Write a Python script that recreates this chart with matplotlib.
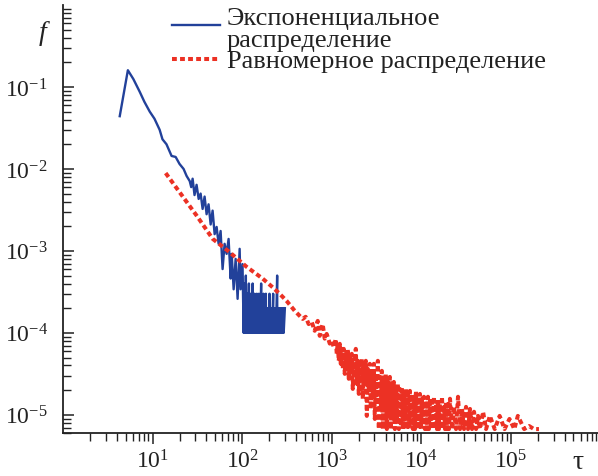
import numpy as np
import matplotlib
matplotlib.use('Agg')
import matplotlib.pyplot as plt
from matplotlib.lines import Line2D

plt.rcParams['font.family'] = ['Liberation Serif', 'DejaVu Serif']
plt.rcParams['mathtext.fontset'] = 'stix'

# exponential distribution (blue)
tau_exp = [4.3, 5.3, 6.1, 7.2, 8.1, 9.3, 10.5, 12, 12.9, 14.3, 16.3, 18.1, 20, 22.2, 24, 26, 27, 28,
           29.4, 31, 32.7, 34.4, 36.2, 38.1, 40.1, 42.2, 44.5, 46.8, 49.3, 51.9, 54.6, 57.5, 60.5,
           63.7, 67.1, 70.6, 74.4, 76.4, 80.4, 84.6, 89, 93.8, 96, 101,
           104, 105, 106, 108, 109, 110, 111, 113, 114, 116, 117, 119, 120, 122, 123, 125, 126, 128,
           129, 131, 132, 134, 135, 138, 139, 142, 143, 146, 147, 150, 151, 154, 155, 158, 159, 163,
           164, 168, 169, 173, 174, 178, 179, 184, 185, 190, 191, 196, 197, 202, 203, 208, 209, 215,
           216, 222, 223, 230, 231, 238, 239, 246, 247, 254, 255, 263, 264, 272, 273, 281, 282, 290,
           291, 300]
f_exp = [0.044, 0.16, 0.125, 0.087, 0.066, 0.050, 0.041, 0.030, 0.023, 0.020, 0.0144, 0.014, 0.0115,
         0.010, 0.0082, 0.0071, 0.0060, 0.0076, 0.0048, 0.0064, 0.0043, 0.0050, 0.00325, 0.0046,
         0.0028, 0.0037, 0.0021, 0.0031, 0.0016, 0.00196, 0.00122, 0.00175, 0.0006, 0.00122, 0.00092,
         0.0014, 0.00046, 0.00092, 0.00034, 0.0008, 0.00026, 0.00106, 0.00034, 0.00069,
         1e-4, 4e-4, 1e-4, 3e-4, 1e-4, 5e-4, 1e-4, 2e-4, 1e-4, 3e-4, 1e-4, 4e-4, 1e-4, 2e-4, 1e-4,
         3e-4, 1e-4, 2e-4, 1e-4, 4e-4, 1e-4, 2e-4, 1e-4, 3e-4, 1e-4, 2e-4, 1e-4, 3e-4, 1e-4, 2e-4,
         1e-4, 3e-4, 1e-4, 2e-4, 1e-4, 4e-4, 1e-4, 2e-4, 1e-4, 3e-4, 1e-4, 2e-4, 1e-4, 3e-4, 1e-4,
         2e-4, 1e-4, 2e-4, 1e-4, 3e-4, 1e-4, 2e-4, 1e-4, 2e-4, 1e-4, 3e-4, 1e-4, 2e-4, 1e-4, 2e-4,
         1e-4, 5e-4, 1e-4, 2e-4, 1e-4, 2e-4, 1e-4, 2e-4, 1e-4, 2e-4, 1e-4, 2e-4, 1e-4, 2e-4]

# uniform distribution (red)
tau_uni = [14, 20, 31, 47, 72, 112, 169, 219, 262, 314, 386, 474, 512, 553, 598, 646, 698, 735, 793,
           835, 879, 951, 1000, 1054,
           1110, 1139, 1168, 1199, 1230, 1262, 1295, 1329, 1363, 1399, 1436, 1473, 1511, 1551, 1591,
           1633, 1675, 1719, 1764, 1810, 1857, 1906, 1955, 2006, 2059, 2112, 2167, 2224, 2282, 2342,
           2403, 2466, 2530, 2596, 2663, 2733, 2804, 2877, 2953, 3030, 3109, 3190, 3273, 3359, 3446,
           3536, 3629, 3723, 3821, 3920, 4023, 4128, 4235, 4346, 4460, 4576, 4695, 4818, 4944, 5073,
           5205, 5341, 5480, 5623, 5770, 5921, 6075, 6234, 6397, 6564, 6735, 6911, 7091, 7276, 7466,
           7661, 7861, 8066, 8276, 8492, 8714, 8941, 9175, 9414, 9660, 9912, 10170, 10436, 10708,
           10988, 11275, 11569, 11871, 12181, 12499, 12825, 13160, 13504, 13856, 14218, 14589,
           14970, 15361, 15762, 16173, 16596, 17029, 17473, 17930, 18398, 18878, 19371, 19877,
           20395, 20928, 22034, 23199, 24425, 25716, 27075, 28506, 30012, 31598, 33268, 35026,
           36877, 38826, 40878, 43038, 45313, 48950, 52880, 58300, 66100, 75000, 85100, 96500,
           109400, 119700, 141000, 160000, 181000, 206000]
f_uni = [8.9e-3, 5.2e-3, 2.7e-3, 1.4e-3, 9.7e-4, 6.4e-4, 4.6e-4, 3.6e-4, 3.0e-4, 2.45e-4, 1.86e-4,
         1.48e-4, 1.57e-4, 1.28e-4, 1.36e-4, 1.06e-4, 1.4e-4, 9.2e-5, 1.28e-4, 8.5e-5, 9.7e-5, 7.4e-5,
         8e-5, 6.7e-5,
         8.45e-5, 5.55e-5, 7.35e-5, 4.56e-5, 7.35e-5, 4.19e-5, 6.38e-5, 3.64e-5, 6.38e-5, 3.16e-5,
         5.55e-5, 3.85e-5, 6.38e-5, 2.75e-5, 5.1e-5, 3.44e-5, 5.55e-5, 2.07e-5, 4.82e-5, 3.16e-5,
         6.38e-5, 2.39e-5, 4.56e-5, 1.8e-5, 4.19e-5, 2.75e-5, 4.82e-5, 1.57e-5, 3.85e-5, 2.39e-5,
         4.56e-5, 9.7e-6, 3.64e-5, 1.96e-5, 4.19e-5, 1.18e-5, 3.44e-5, 1.8e-5, 4.19e-5, 8.9e-6,
         3.16e-5, 1.44e-5, 4.56e-5, 6.7e-6, 2.9e-5, 1.25e-5, 3.44e-5, 6.7e-6, 2.75e-5, 1.09e-5,
         3.16e-5, 6.7e-6, 2.52e-5, 9.7e-6, 2.9e-5, 6.7e-6, 2.39e-5, 8.9e-6, 2.52e-5, 6.7e-6,
         2.19e-5, 8.2e-6, 2.39e-5, 6.7e-6, 2.07e-5, 7.3e-6, 2.19e-5, 6.7e-6, 1.96e-5, 8.9e-6,
         2.07e-5, 6.7e-6, 1.8e-5, 6.7e-6, 1.96e-5, 8.2e-6, 1.8e-5, 6.7e-6, 1.66e-5, 6.7e-6,
         1.96e-5, 7.3e-6, 1.66e-5, 6.7e-6, 1.8e-5, 6.7e-6, 1.57e-5, 8.2e-6, 1.66e-5, 6.7e-6,
         1.44e-5, 6.7e-6, 1.66e-5, 6.7e-6, 1.57e-5, 7.3e-6, 1.44e-5, 6.7e-6, 1.66e-5, 6.7e-6,
         1.36e-5, 6.7e-6, 1.57e-5, 6.7e-6, 1.36e-5, 6.7e-6, 1.66e-5, 6.7e-6, 1.25e-5, 6.7e-6,
         1.44e-5, 6.7e-6, 1.36e-5, 6.7e-6, 1.57e-5, 6.7e-6, 1.25e-5, 6.7e-6, 1.66e-5, 6.7e-6,
         1.18e-5, 6.7e-6, 1.25e-5, 6.7e-6, 1.18e-5, 6.7e-6, 1.09e-5, 6.7e-6, 9.7e-6, 6.7e-6,
         1.09e-5, 6.7e-6, 9.7e-6, 6.7e-6, 9.7e-6, 6.7e-6, 8.9e-6, 6.7e-6, 9.7e-6, 6.7e-6, 7.3e-6,
         6.7e-6, 6.7e-6]

labels = ['Экспоненциальное\nраспределение', 'Равномерное распределение']
c_exp = '#22419a'
c_uni = '#ec3124'
uni_style = (0, (1.2, 0.8))

fig = plt.figure(figsize=(5.98, 4.77), dpi=100)
ax = fig.add_axes([63/598, 43/477, 535/598, 428/477])

ax.plot(tau_exp, f_exp, color=c_exp, lw=1.7)
ax.plot(tau_uni, f_uni, color=c_uni, lw=2.9, linestyle=uni_style)

ax.set_xscale('log')
ax.set_yscale('log')
ax.set_xlim(1, 9.4e5)
ax.set_ylim(6e-6, 1)
ax.set_xticks([1e1, 1e2, 1e3, 1e4, 1e5])
ax.set_yticks([1e-5, 1e-4, 1e-3, 1e-2, 1e-1])

for s in ['top', 'right']:
    ax.spines[s].set_visible(False)
for s in ['left', 'bottom']:
    ax.spines[s].set_linewidth(1.3)
    ax.spines[s].set_color('#222222')

ax.tick_params(axis='x', which='major', direction='out', length=8, width=1.1, labelsize=17, pad=4, color='#222222')
ax.tick_params(axis='x', which='minor', direction='out', length=6, width=1.0, color='#222222')
ax.tick_params(axis='y', which='major', direction='in', length=8, width=1.1, labelsize=17, pad=11, color='#222222')
ax.tick_params(axis='y', which='minor', direction='in', length=6, width=1.0, color='#222222')
ax.tick_params(labelcolor='#222222')

fig.text(43/598, 1 - 34/477, 'f', fontsize=20, style='italic', ha='center', va='center', color='#222222')
fig.text(578/598, 1 - 463/477, 'τ', fontsize=20, ha='center', va='center', color='#222222')

# legend, drawn by hand so the blue key sits on the first text line
fig.add_artist(Line2D([172/598, 220/598], [1 - 26/477, 1 - 26/477], color=c_exp, lw=1.7))
fig.add_artist(Line2D([172/598, 220/598], [1 - 60/477, 1 - 60/477], color=c_uni, lw=2.9, linestyle=uni_style))
fig.text(227/598, 1 - 8/477, labels[0], fontsize=19, ha='left', va='top', linespacing=0.98, color='#222222')
fig.text(227/598, 1 - 68/477, labels[1], fontsize=19, ha='left', va='baseline', color='#222222')

fig.savefig('out.png', dpi=100)
